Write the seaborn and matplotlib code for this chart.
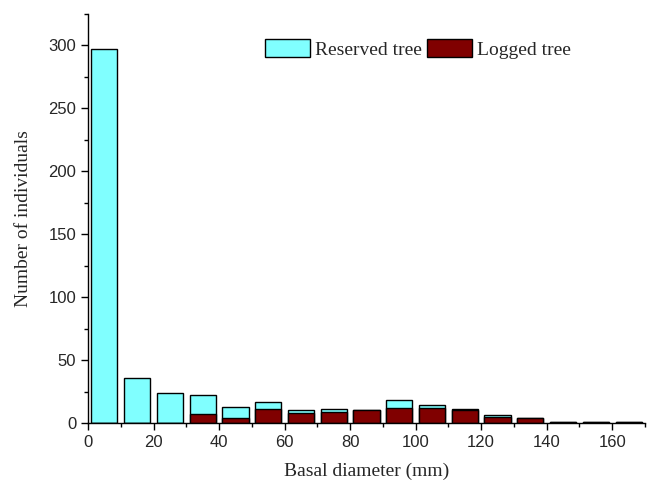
import numpy as np
import pandas as pd
import seaborn as sns
import matplotlib.pyplot as plt
from matplotlib.patches import Patch
from matplotlib.ticker import MultipleLocator

# bin centres (mm) and counts
diameter = [5, 15, 25, 35, 45, 55, 65, 75, 85, 95, 105, 115, 125, 135, 145, 155, 165]
reserved = [297, 36, 24, 22, 13, 17, 10, 11, 10, 18, 14, 11, 6, 4, 1, 1, 1]
logged = [0, 0, 0, 7, 4, 11, 8, 9, 10, 12, 12, 10, 5, 4, 1, 1, 1]

cyan = "#80FFFF"
darkred = "#800000"

sns.set_style("ticks")
plt.rcParams["font.family"] = ["Liberation Sans", "DejaVu Sans"]

fig = plt.figure(figsize=(6.52, 4.88), dpi=100)
ax = fig.add_axes([88 / 652, 1 - 423 / 488, (645 - 88) / 652, (423 - 14) / 488])

df = pd.DataFrame({"diameter": diameter, "reserved": reserved, "logged": logged})
sns.barplot(data=df, x="diameter", y="reserved", native_scale=True, width=0.8,
            color=cyan, saturation=1, edgecolor="black", linewidth=1, ax=ax)
sns.barplot(data=df, x="diameter", y="logged", native_scale=True, width=0.8,
            color=darkred, saturation=1, edgecolor="black", linewidth=1, ax=ax)

ax.set_xlim(0, 170)
ax.set_ylim(0, 325)
ax.xaxis.set_major_locator(MultipleLocator(20))
ax.xaxis.set_minor_locator(MultipleLocator(10))
ax.yaxis.set_major_locator(MultipleLocator(50))
ax.yaxis.set_minor_locator(MultipleLocator(25))
ax.set_yticks(np.arange(0, 301, 50))
ax.tick_params(which="major", length=5, width=1, labelsize=12, color="black")
ax.tick_params(which="minor", length=3, width=1, color="black")

sns.despine(ax=ax)
for s in ["left", "bottom"]:
    ax.spines[s].set_color("black")
    ax.spines[s].set_linewidth(1)

serif = ["Liberation Serif", "DejaVu Serif"]
ax.set_xlabel("Basal diameter (mm)", family=serif, fontsize=14, labelpad=9)
ax.set_ylabel("Number of individuals", family=serif, fontsize=14, labelpad=12)

handles = [Patch(facecolor=cyan, edgecolor="black", label="Reserved tree"),
           Patch(facecolor=darkred, edgecolor="black", label="Logged tree")]
ax.legend(handles=handles, ncol=2, frameon=False, loc="center left",
          bbox_to_anchor=(0.30, 0.915), borderpad=0, handlelength=2.3,
          handleheight=1.08, handletextpad=0.26, columnspacing=0.3,
          prop={"family": serif, "size": 14})

fig.savefig("out.png", dpi=100)
